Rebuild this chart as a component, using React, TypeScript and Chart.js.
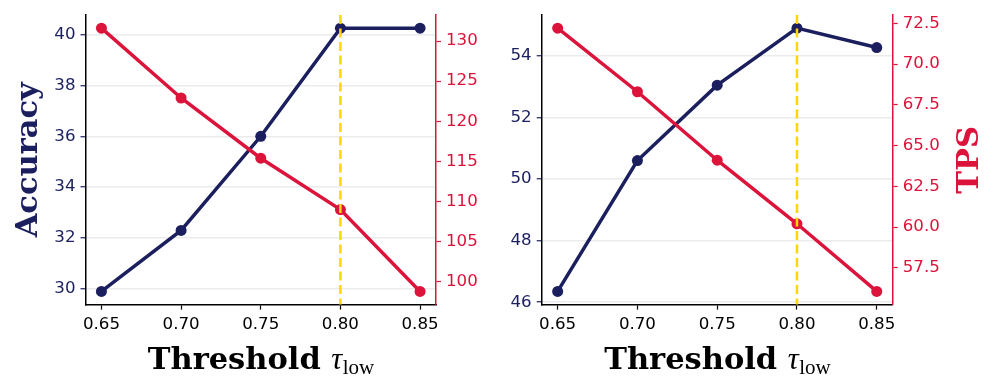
import React, { useEffect, useRef } from 'react';
import { Chart, registerables } from 'chart.js';

Chart.register(...registerables);

// ---------- data ----------
const thresholds = [0.65, 0.7, 0.75, 0.8, 0.85];
const xTickValues = [0.65, 0.7, 0.75, 0.8, 0.85];
const highlightThreshold = 0.8;

const accuracyLeft = [29.9, 32.3, 36.0, 40.25, 40.25];
const tpsLeft = [131.6, 122.9, 115.4, 109.0, 98.8];
const accuracyLeftTicks = [30, 32, 34, 36, 38, 40];
const tpsLeftTicks = [100, 105, 110, 115, 120, 125, 130];

const accuracyRight = [46.35, 50.6, 53.05, 54.9, 54.27];
const tpsRight = [72.2, 68.3, 64.1, 60.2, 56.05];
const accuracyRightTicks = [46, 48, 50, 52, 54];
const tpsRightTicks = [57.5, 60, 62.5, 65, 67.5, 70, 72.5];

const xTitleMain = 'Threshold ';
const xTitleSymbol = 'τ';
const xTitleSub = 'low';
const accTitle = 'Accuracy';
const tpsTitle = 'TPS';

// ---------- style ----------
const NAVY = '#1b1f5e';
const CRIMSON = '#dc143c';
const GOLD = '#ffd700';
const GRID = '#ebebeb';
const TICK_FONT = { family: '"DejaVu Sans"', size: 16.67 };
const TITLE_SIZE = 30.5;

function limits(vals: number[], lo?: number, hi?: number) {
  const mn = Math.min(...vals);
  const mx = Math.max(...vals);
  const m = (mx - mn) * 0.05;
  return { min: lo ?? mn - m, max: hi ?? mx + m };
}

const decorPlugin = {
  id: 'decor',
  afterDatasetsDraw(chart: any) {
    const o = chart.options.plugins.decor;
    const { ctx, chartArea, scales } = chart;
    const x = scales.x.getPixelForValue(o.highlight);
    ctx.save();
    ctx.strokeStyle = GOLD;
    ctx.lineWidth = 2.5;
    ctx.setLineDash([9, 4.5]);
    ctx.beginPath();
    ctx.moveTo(x, chartArea.top);
    ctx.lineTo(x, chartArea.bottom);
    ctx.stroke();
    ctx.restore();
  },
  afterDraw(chart: any) {
    const o = chart.options.plugins.decor;
    const { ctx, chartArea } = chart;
    ctx.save();
    // x title
    ctx.fillStyle = '#000';
    ctx.textBaseline = 'alphabetic';
    ctx.textAlign = 'left';
    const f1 = `bold ${TITLE_SIZE}px "DejaVu Serif"`;
    const f2 = `italic ${TITLE_SIZE}px "Liberation Serif"`;
    const f3 = `21px "Liberation Serif"`;
    ctx.font = f1;
    const w1 = ctx.measureText(xTitleMain).width;
    ctx.font = f2;
    const w2 = ctx.measureText(xTitleSymbol).width;
    ctx.font = f3;
    const w3 = ctx.measureText(xTitleSub).width;
    const cx = (chartArea.left + chartArea.right) / 2;
    let sx = cx - (w1 + w2 + w3) / 2;
    const by = o.xTitleBaseline;
    ctx.font = f1;
    ctx.fillText(xTitleMain, sx, by);
    sx += w1;
    ctx.font = f2;
    ctx.fillText(xTitleSymbol, sx, by);
    sx += w2 + 0.5;
    ctx.font = f3;
    ctx.fillText(xTitleSub, sx, by + 5);

    const cy = (chartArea.top + chartArea.bottom) / 2;
    if (o.leftTitle) {
      ctx.save();
      ctx.font = f1;
      ctx.fillStyle = NAVY;
      ctx.textAlign = 'center';
      ctx.translate(o.leftTitleX, cy);
      ctx.rotate(-Math.PI / 2);
      ctx.fillText(o.leftTitle, 0, 0);
      ctx.restore();
    }
    if (o.rightTitle) {
      ctx.save();
      ctx.font = f1;
      ctx.fillStyle = CRIMSON;
      ctx.textAlign = 'center';
      ctx.translate(o.rightTitleX, cy);
      ctx.rotate(-Math.PI / 2);
      ctx.fillText(o.rightTitle, 0, 0);
      ctx.restore();
    }
    ctx.restore();
  },
};

type PanelCfg = {
  acc: number[];
  tps: number[];
  accTicks: number[];
  tpsTicks: number[];
  tpsFmt: (v: number) => string;
  leftW: number;
  rightW: number;
  leftTitle?: string;
  rightTitle?: string;
  leftTitleX?: number;
  rightTitleX?: number;
};

function makeConfig(c: PanelCfg): any {
  const accLim = limits(c.acc);
  const tpsLim = limits(c.tps);
  return {
    type: 'line',
    data: {
      datasets: [
        {
          label: 'Accuracy',
          data: thresholds.map((t, i) => ({ x: t, y: c.acc[i] })),
          borderColor: NAVY,
          backgroundColor: NAVY,
          borderWidth: 3.5,
          pointRadius: 5.5,
          pointBorderWidth: 0,
          pointBackgroundColor: NAVY,
          tension: 0,
          yAxisID: 'y',
          order: 1,
        },
        {
          label: 'TPS',
          data: thresholds.map((t, i) => ({ x: t, y: c.tps[i] })),
          borderColor: CRIMSON,
          backgroundColor: CRIMSON,
          borderWidth: 3.5,
          pointRadius: 5.5,
          pointBorderWidth: 0,
          pointBackgroundColor: CRIMSON,
          tension: 0,
          yAxisID: 'y1',
          order: 0,
        },
      ],
    },
    options: {
      responsive: false,
      animation: false,
      devicePixelRatio: 1,
      layout: { padding: { top: 12, left: 0, right: 0, bottom: 0 } },
      plugins: {
        legend: { display: false },
        tooltip: { enabled: false },
        decor: {
          highlight: highlightThreshold,
          xTitleBaseline: 369,
          leftTitle: c.leftTitle,
          rightTitle: c.rightTitle,
          leftTitleX: c.leftTitleX,
          rightTitleX: c.rightTitleX,
        },
      },
      scales: {
        x: {
          type: 'linear',
          min: 0.64,
          max: 0.86,
          afterBuildTicks: (s: any) => {
            s.ticks = xTickValues.map((v) => ({ value: v }));
          },
          afterFit: (s: any) => {
            s.height = 80.4;
          },
          ticks: {
            color: '#000',
            font: TICK_FONT,
            padding: 5,
            maxRotation: 0,
            autoSkip: false,
            callback: (v: number) => v.toFixed(2),
          },
          grid: { drawOnChartArea: false, drawTicks: true, tickLength: 5, tickColor: '#000', tickWidth: 1.2 },
          border: { display: true, color: '#000', width: 1.5 },
        },
        y: {
          type: 'linear',
          position: 'left',
          min: accLim.min,
          max: accLim.max,
          afterBuildTicks: (s: any) => {
            s.ticks = c.accTicks.map((v) => ({ value: v }));
          },
          afterFit: (s: any) => {
            s.width = c.leftW;
          },
          ticks: {
            color: NAVY,
            font: TICK_FONT,
            padding: 5,
            autoSkip: false,
            callback: (v: number) => String(v),
          },
          grid: {
            drawOnChartArea: true,
            drawTicks: true,
            color: GRID,
            lineWidth: 1.5,
            tickLength: 5,
            tickColor: NAVY,
            tickWidth: 1.2,
          },
          border: { display: true, color: '#000', width: 1.5 },
        },
        y1: {
          type: 'linear',
          position: 'right',
          min: tpsLim.min,
          max: tpsLim.max,
          afterBuildTicks: (s: any) => {
            s.ticks = c.tpsTicks.map((v) => ({ value: v }));
          },
          afterFit: (s: any) => {
            s.width = c.rightW;
          },
          ticks: {
            color: CRIMSON,
            font: TICK_FONT,
            padding: 5,
            autoSkip: false,
            callback: (v: number) => c.tpsFmt(v),
          },
          grid: {
            drawOnChartArea: false,
            drawTicks: true,
            tickLength: 5,
            tickColor: CRIMSON,
            tickWidth: 1.2,
          },
          border: { display: true, color: CRIMSON, width: 1.5 },
        },
      },
    },
    plugins: [decorPlugin],
  };
}

function Panel({ cfg, left }: { cfg: PanelCfg; left: number }) {
  const ref = useRef<HTMLCanvasElement>(null);
  useEffect(() => {
    if (!ref.current) return;
    const chart = new Chart(ref.current, makeConfig(cfg));
    return () => chart.destroy();
  }, []);
  return (
    <div style={{ position: 'absolute', left, top: 0, width: 498, height: 385 }}>
      <canvas ref={ref} width={498} height={385} style={{ display: 'block', width: 498, height: 385 }} />
    </div>
  );
}

const leftPanel: PanelCfg = {
  acc: accuracyLeft,
  tps: tpsLeft,
  accTicks: accuracyLeftTicks,
  tpsTicks: tpsLeftTicks,
  tpsFmt: (v) => String(v),
  leftW: 85.5,
  rightW: 62,
  leftTitle: accTitle,
  leftTitleX: 37,
};

const rightPanel: PanelCfg = {
  acc: accuracyRight,
  tps: tpsRight,
  accTicks: accuracyRightTicks,
  tpsTicks: tpsRightTicks,
  tpsFmt: (v) => v.toFixed(1),
  leftW: 43.7,
  rightW: 103.3,
  rightTitle: tpsTitle,
  rightTitleX: 480,
};

export default function App() {
  return (
    <div style={{ position: 'fixed', left: 0, top: 0, width: 996, height: 385, background: '#fff', overflow: 'hidden' }}>
      <Panel cfg={leftPanel} left={0} />
      <Panel cfg={rightPanel} left={498} />
    </div>
  );
}
